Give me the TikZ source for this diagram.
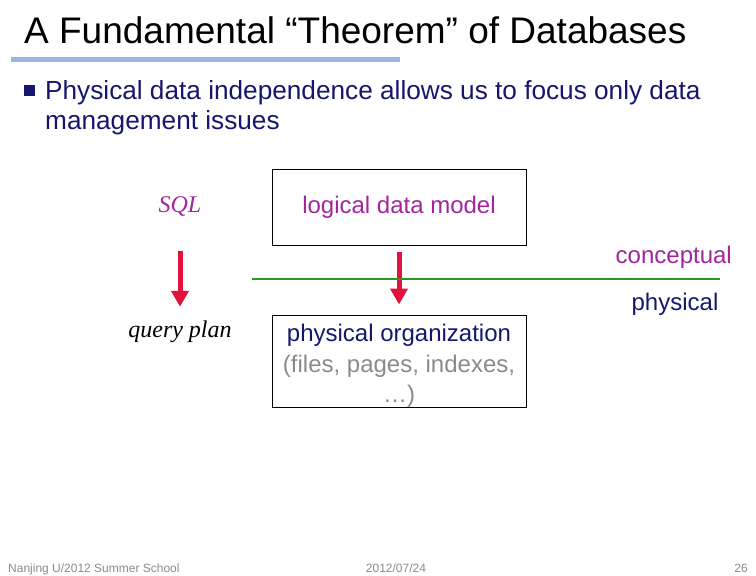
\documentclass[tikz,border=0pt]{standalone}
\usepackage{fontspec}
\setmainfont{Liberation Sans}
\newfontfamily\timesit{Liberation Serif}
\usetikzlibrary{arrows.meta}

\definecolor{navy}{HTML}{16166E}
\definecolor{plum}{HTML}{A0259E}
\definecolor{crimson}{HTML}{E3123C}
\definecolor{leaf}{HTML}{2A9626}
\definecolor{barblue}{HTML}{9DB3E6}
\definecolor{dimgray}{HTML}{8A8A8A}

\tikzset{
  box/.style={draw, line width=1pt, minimum width=254pt, inner sep=0pt},
  redarrow/.style={draw=crimson, line width=5pt, -{Triangle[width=17pt,length=16pt]}},
  lbl/.style={anchor=base, inner sep=0pt, text height=17pt, text depth=5pt,
    font=\fontsize{24}{29}\selectfont},
}

\begin{document}
\begin{tikzpicture}[x=1pt,y=-1pt]
            \useasboundingbox (0,0) rectangle (756,576);

            \node[anchor=base west, inner sep=0pt, font=\fontsize{37}{40}\selectfont] (title) at (24,43)
                {A Fundamental “Theorem” of Databases};
            \fill[barblue] (11,57) rectangle (400,62);

            \fill[navy] (24,85) rectangle (35,96);
            \node[anchor=base west, inner sep=0pt, text=navy, font=\fontsize{26.2}{30}\selectfont] (pt1) at (45,99)
                {Physical data independence allows us to focus only data};
            \node[anchor=base west, inner sep=0pt, text=navy, font=\fontsize{26.2}{30}\selectfont] (pt2) at (45,129)
                {management issues};

            \node[lbl, text=plum, font=\fontsize{24}{29}\timesit\itshape] (sql) at (180,212) {SQL};
            \node[lbl, font=\fontsize{24}{29}\timesit\itshape] (qplan) at (180,337) {query plan};

            \node[box, minimum height=76pt, text=plum, font=\fontsize{24}{29}\selectfont] (logical) at (399,207)
                {logical data model};
            \node[box, minimum height=92pt] (physorg) at (399,361) {};
            \node[align=center, inner sep=0pt, font=\fontsize{24}{30.5}\selectfont] (orgtext) at (399,366)
                {\textcolor{navy}{physical organization}\\
                 \textcolor{dimgray}{(files, pages, indexes,}\\
                 \textcolor{dimgray}{…)}};

            \draw[redarrow, shorten <=34pt, shorten >=13pt] (sql) -- (qplan);
            \draw[redarrow, shorten <=6pt, shorten >=10pt] (logical) -- (physorg);

            \coordinate (divl) at (252,279);
            \coordinate (divr) at (720,279);
            \draw[leaf, line width=1.2pt] (divl) -- (divr);
            \node[lbl, anchor=base east, text=plum] (concept) at (732,263) {conceptual};
            \node[lbl, text=navy] (phys) at (675,310) {physical};

            \node[anchor=base west, inner sep=0pt, text=dimgray, font=\fontsize{12}{14}\selectfont] (foot1) at (8,572)
                {Nanjing U/2012 Summer School};
            \node[anchor=base, inner sep=0pt, text=dimgray, font=\fontsize{12}{14}\selectfont] (foot2) at (396,572)
                {2012/07/24};
            \node[anchor=base east, inner sep=0pt, text=dimgray, font=\fontsize{12}{14}\selectfont] (foot3) at (748,572)
                {26};
        \end{tikzpicture}
\end{document}
